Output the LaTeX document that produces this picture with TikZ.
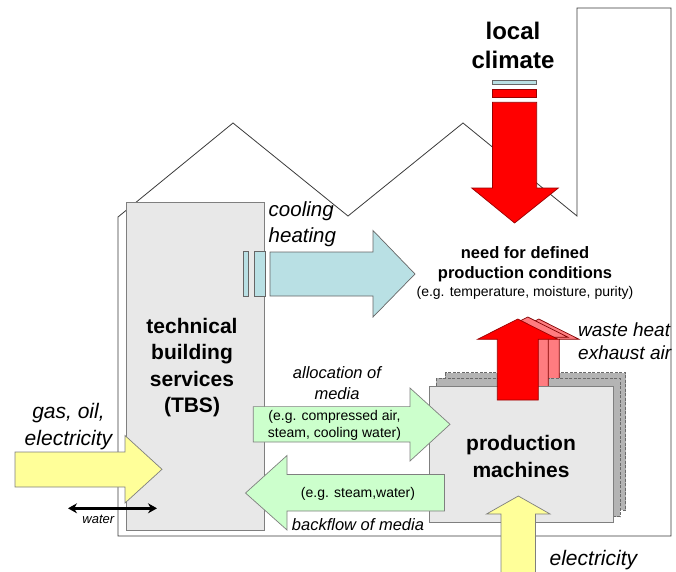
\documentclass[tikz,border=0pt]{standalone}
\usepackage{fontspec}
\setmainfont{Liberation Sans}
\usetikzlibrary{arrows.meta}
\definecolor{tbsfill}{HTML}{E8E8E8}
\definecolor{boxline}{HTML}{7F7F7F}
\definecolor{layerfill}{HTML}{B4B4B4}
\definecolor{layerline}{HTML}{6A6A6A}
\definecolor{cyanfill}{HTML}{B9E0E4}
\definecolor{greenfill}{HTML}{CCFFCC}
\definecolor{yellowfill}{HTML}{FFFF99}
\definecolor{redfill}{HTML}{FF0000}
\definecolor{pinkfill}{HTML}{FF7C80}
\definecolor{outlinecol}{HTML}{3A3A3A}
\tikzset{
  outline/.style={draw=outlinecol, line width=0.8pt, line join=miter},
  graybox/.style={draw=boxline, fill=tbsfill, line width=0.8pt},
  layerbox/.style={draw=layerline, fill=layerfill, line width=0.8pt, dash pattern=on 3pt off 1.5pt},
  blockarrow/.style={line width=0.7pt, line join=miter},
  cyanarrow/.style={blockarrow, draw=boxline!80!black, fill=cyanfill},
  greenarrow/.style={blockarrow, draw=boxline, fill=greenfill},
  yellowarrow/.style={blockarrow, draw=boxline, fill=yellowfill},
  redarrow/.style={blockarrow, draw=red!60!black, fill=redfill},
  pinkarrow/.style={blockarrow, draw=red!50!black, fill=pinkfill},
  lbl/.style={inner sep=0pt, align=center, text=black},
}
\begin{document}
\begin{tikzpicture}[x=1pt,y=-1pt]
\useasboundingbox (0,0) rectangle (676,571);
% building outline with roof and chimney
\draw[outline] (118,536) -- (118,217) -- (233,123) -- (348,216) -- (463,123)
  -- (577,216) -- (577,8) -- (671,8) -- (671,536) -- cycle;
% TBS box
\draw[graybox] (126.7,202.5) rectangle (264,530.5);
% water double arrow
\coordinate (wl) at (68,508.3);
\coordinate (wr) at (157,508.3);
\draw[line width=2.4pt, {Stealth[length=9pt,width=10pt]}-{Stealth[length=9pt,width=10pt]}] (wl) -- (wr);
% production machines stack
\draw[layerbox] (445,372.7) rectangle (625.7,510);
\begin{scope}[shift={(21,0)}]
\draw[pinkarrow] (497.3,400) -- (497.3,339.3) -- (477.5,339.3) -- (517.8,319) -- (558.1,339.3) -- (538.3,339.3) -- (538.3,400) -- cycle;
\end{scope}
\draw[layerbox] (436,378.3) rectangle (620,516.7);
\begin{scope}[shift={(10,-2)}]
\draw[pinkarrow] (497.3,400) -- (497.3,339.3) -- (477.5,339.3) -- (517.8,319) -- (558.1,339.3) -- (538.3,339.3) -- (538.3,400) -- cycle;
\end{scope}
\draw[graybox] (429.3,386) rectangle (613.3,522.7);
% waste heat red arrow
\draw[redarrow] (497.3,400) -- (497.3,339.3) -- (477.5,339.3) -- (517.8,319) -- (558.1,339.3) -- (538.3,339.3) -- (538.3,400) -- cycle;
% local climate red arrow
\draw[cyanarrow] (492.5,80) rectangle (536.7,84.3);
\draw[redarrow] (492.5,89) rectangle (536.7,97.5);
\draw[redarrow] (492.5,102.3) -- (536.7,102.3) -- (536.7,188) -- (558.3,188) -- (514.6,223) -- (471.7,188) -- (492.5,188) -- cycle;
% cooling / heating arrow
\draw[cyanarrow] (243.3,251.7) rectangle (248.5,296);
\draw[cyanarrow] (254,251.7) rectangle (265.3,296);
\draw[cyanarrow] (270,252) -- (373,252) -- (373,230.5) -- (415,274) -- (373,317) -- (373,296) -- (270,296) -- cycle;
% media arrows
\draw[greenarrow] (253.3,406.6) -- (410,406.6) -- (410,388) -- (450,424.3) -- (410,461) -- (410,442) -- (253.3,442) -- cycle;
\draw[greenarrow] (444.5,474.5) -- (287,474.5) -- (287,455.5) -- (245.5,493) -- (287,530) -- (287,511) -- (444.5,511) -- cycle;
% energy input arrows
\draw[yellowarrow] (15,452) -- (125,452) -- (125,435.5) -- (162,469.3) -- (125,503) -- (125,487) -- (15,487) -- cycle;
\draw[yellowarrow] (501,585) -- (501,514) -- (486.5,514) -- (518.3,496) -- (550.1,514) -- (535.5,514) -- (535.5,585) -- cycle;
% texts
\node[lbl, font=\bfseries\fontsize{24}{29}\selectfont] (climate) at (513,45.5) {local\\climate};
\node[lbl, font=\bfseries\fontsize{16.5}{20.5}\selectfont] (need) at (525,264) {need for defined\\production conditions};
\node[lbl, font=\fontsize{14}{17}\selectfont] (eg1) at (525,293) {(e.g. temperature, moisture, purity)};
\node[lbl, font=\itshape\fontsize{20.5}{25.5}\selectfont, align=left, anchor=west] (cool) at (268.5,224) {cooling\\heating};
\node[lbl, font=\bfseries\fontsize{21}{26.3}\selectfont] (tbs) at (192,367.5) {technical\\building\\services\\(TBS)};
\node[lbl, font=\itshape\fontsize{16.5}{20.3}\selectfont] (alloc) at (337,383) {allocation of\\media};
\node[lbl, font=\fontsize{14}{17}\selectfont] (eg2) at (334.5,425.5) {(e.g. compressed air,\\steam, cooling water)};
\node[lbl, font=\fontsize{14}{17}\selectfont] (eg3) at (358,494) {(e.g. steam,water)};
\node[lbl, font=\itshape\fontsize{16.5}{20}\selectfont] (back) at (358,525) {backflow of media};
\node[lbl, font=\bfseries\fontsize{21}{27}\selectfont] (prod) at (521,456.5) {production\\machines};
\node[lbl, font=\itshape\fontsize{19}{23}\selectfont, align=left, anchor=west] (waste) at (578,341.5) {waste heat\\exhaust air};
\node[lbl, font=\itshape\fontsize{21}{27}\selectfont] (gas) at (68.5,426.5) {gas, oil,\\electricity};
\node[lbl, font=\itshape\fontsize{13}{15}\selectfont] (water) at (98.3,519.3) {water};
\node[lbl, font=\itshape\fontsize{21}{25}\selectfont] (elec) at (593.4,559.8) {electricity};
\end{tikzpicture}
\end{document}
